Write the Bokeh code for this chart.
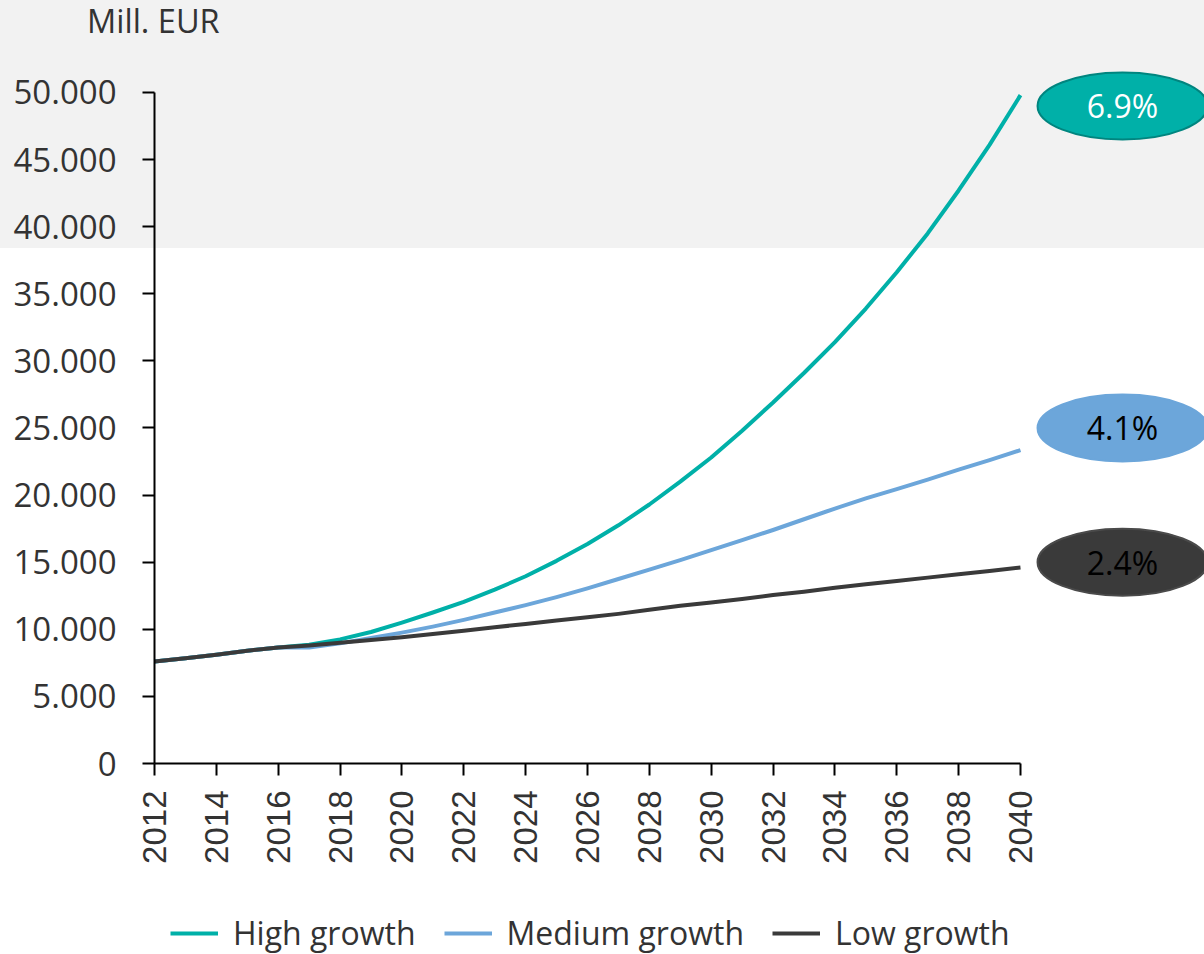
import math
from bokeh.plotting import figure
from bokeh.layouts import column
from bokeh.models import (Range1d, FixedTicker, Legend, LegendItem, Div,
                          ColumnDataSource, GlobalInlineStyleSheet)
from bokeh.core.properties import value
from bokeh.embed import file_html
from bokeh.resources import INLINE

# ---------------- data ----------------
years = list(range(2012, 2041))
high_growth = [7600, 7850, 8100, 8400, 8650, 8850, 9250, 9800, 10500, 11250,
               12050, 12950, 13950, 15100, 16350, 17750, 19300, 21000, 22800,
               24800, 26900, 29100, 31400, 33900, 36600, 39500, 42700, 46100, 49800]
medium_growth = [7600, 7850, 8100, 8400, 8650, 8650, 8950, 9350, 9750, 10200,
                 10700, 11250, 11800, 12400, 13050, 13750, 14450, 15150, 15900,
                 16650, 17400, 18200, 19000, 19750, 20450, 21150, 21900, 22600, 23350]
low_growth = [7600, 7850, 8100, 8400, 8650, 8800, 9000, 9200, 9400, 9650,
              9900, 10150, 10400, 10650, 10900, 11150, 11450, 11750, 12000,
              12250, 12550, 12800, 13100, 13350, 13600, 13850, 14100, 14350, 14600]
series_names = ["High growth", "Medium growth", "Low growth"]
cagr_labels = ["6.9%", "4.1%", "2.4%"]
cagr_label_values = [49000, 25000, 15000]   # vertical position of the badges (data units)
x_ticks = list(range(2012, 2041, 2))
y_ticks = [0, 5000, 10000, 15000, 20000, 25000, 30000, 35000, 40000, 45000, 50000]
y_tick_labels = ["0", "5.000", "10.000", "15.000", "20.000", "25.000",
                 "30.000", "35.000", "40.000", "45.000", "50.000"]
unit_label = "Mill. EUR"
series_values = [high_growth, medium_growth, low_growth]

# ---------------- style ----------------
colors = ["#00b0a8", "#6ca6da", "#3a3a3a"]
badge_fill = ["#00b0a8", "#6ca6da", "#3a3a3a"]
badge_line = ["#00857f", "#6ca6da", "#4a4a4a"]
badge_text = ["#ffffff", "#000000", "#000000"]
text_color = "#333333"
badge_x_offset = 3.3   # years to the right of the last year
W = 1204

css = GlobalInlineStyleSheet(css="""
html { background: #ffffff linear-gradient(to bottom, #f2f2f2 0px, #f2f2f2 248px, #ffffff 248px, #ffffff 100%) no-repeat; overflow: hidden; }
body { overflow: hidden; }
""")

# ---------- header with unit label ----------
head = Div(text=unit_label, width=W - 87, height=64, margin=(0, 0, 0, 87),
           styles={"font-family": "Open Sans", "font-size": "32.5px",
                   "line-height": "42px", "color": text_color})

# ---------- main chart ----------
p = figure(width=W, height=836, output_backend="svg", toolbar_location=None,
           x_range=Range1d(2012, 2045.95), y_range=Range1d(0, 52086),
           min_border_left=154, min_border_right=0, min_border_top=0,
           min_border_bottom=137)
p.stylesheets = [css]
p.background_fill_color = None
p.border_fill_color = None
p.outline_line_color = None
p.xgrid.visible = False
p.ygrid.visible = False

for vals, c in zip(series_values, colors):
    p.line(years, vals, line_color=c, line_width=4, line_join="round")

xa = p.xaxis[0]
xa.ticker = FixedTicker(ticks=x_ticks)
xa.bounds = (years[0], years[-1])
xa.axis_line_color = "#000000"
xa.axis_line_width = 2
xa.major_tick_line_color = "#000000"
xa.major_tick_line_width = 2
xa.major_tick_out = 12
xa.major_tick_in = 0
xa.minor_tick_line_color = None
xa.major_label_orientation = math.pi / 2
xa.major_label_standoff = 15
xa.major_label_text_font = "Liberation Sans"
xa.major_label_text_font_size = "33px"
xa.major_label_text_color = text_color

ya = p.yaxis[0]
ya.ticker = FixedTicker(ticks=y_ticks)
ya.bounds = (y_ticks[0], y_ticks[-1])
ya.major_label_overrides = {t: l for t, l in zip(y_ticks, y_tick_labels)}
ya.axis_line_color = "#000000"
ya.axis_line_width = 2
ya.major_tick_line_color = "#000000"
ya.major_tick_line_width = 2
ya.major_tick_out = 12
ya.major_tick_in = 0
ya.minor_tick_line_color = None
ya.major_label_standoff = 26
ya.major_label_text_font = "Open Sans"
ya.major_label_text_font_size = "33px"
ya.major_label_text_color = text_color

badge_x = [years[-1] + badge_x_offset] * 3
src = ColumnDataSource(dict(x=badge_x, y=cagr_label_values, text=cagr_labels,
                            fill=badge_fill, line=badge_line, tc=badge_text))
p.ellipse(x="x", y="y", width=170, height=67, width_units="screen",
          height_units="screen", fill_color="fill", line_color="line",
          line_width=2, source=src)
p.text(x="x", y="y", text="text", text_align="center", text_baseline="middle",
       text_font=value("Open Sans"), text_font_size="32px", text_color="tc",
       source=src)

# ---------- legend strip ----------
leg = figure(width=W, height=54, output_backend="svg", toolbar_location=None,
             x_axis_type=None, y_axis_type=None,
             x_range=Range1d(0, 1), y_range=Range1d(0, 1),
             min_border=0, min_border_left=0, min_border_right=0,
             min_border_top=0, min_border_bottom=0)
leg.background_fill_color = None
leg.border_fill_color = None
leg.outline_line_color = None
leg.xgrid.visible = False
leg.ygrid.visible = False
leg_renderers = [leg.line(years, vals, line_color=c, line_width=4)
                 for vals, c in zip(series_values, colors)]
legend = Legend(items=[LegendItem(label=n, renderers=[r])
                       for n, r in zip(series_names, leg_renderers)],
                location=(16, 0), orientation="horizontal",
                border_line_color=None, background_fill_alpha=0,
                padding=0, margin=0, spacing=28, label_standoff=15,
                glyph_width=48, glyph_height=30, label_height=30,
                label_text_font="Open Sans", label_text_font_size="32px",
                label_text_color=text_color)
leg.add_layout(legend)

layout = column(head, p, leg, spacing=0)
open("out.html", "w").write(file_html(layout, INLINE))
